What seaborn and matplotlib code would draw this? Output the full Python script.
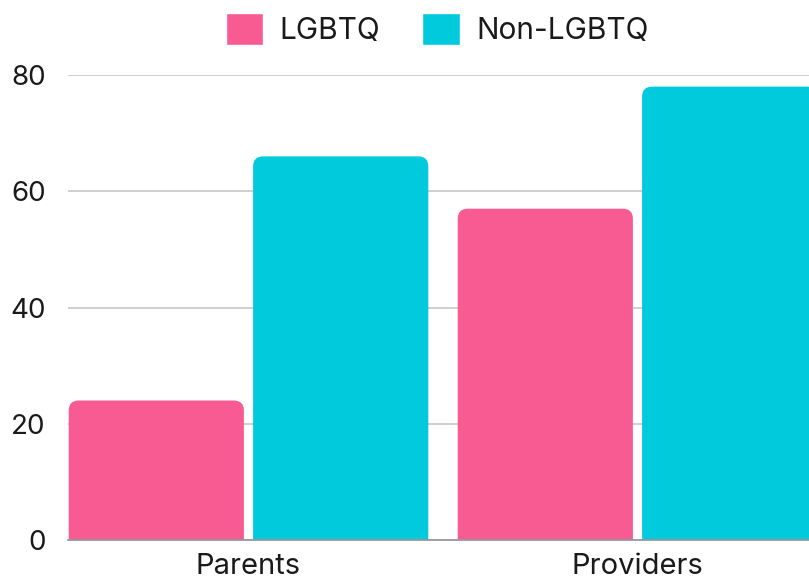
import matplotlib
matplotlib.use("Agg")
import matplotlib.pyplot as plt
from matplotlib.patches import FancyBboxPatch
import seaborn as sns
import pandas as pd

categories = ["Parents", "Providers"]
groups = ["LGBTQ", "Non-LGBTQ"]
lgbtq = [24, 57]
non_lgbtq = [66, 78]
colors = ["#F75B92", "#00CADC"]
yticks = [0, 20, 40, 60, 80]

df = pd.DataFrame({
    "cat": categories * 2,
    "group": [groups[0]] * 2 + [groups[1]] * 2,
    "value": lgbtq + non_lgbtq,
})

sns.set_theme(style="white")
plt.rcParams["font.family"] = ["Inter", "DejaVu Sans"]

fig = plt.figure(figsize=(8.09, 5.82), dpi=100)
ax = fig.add_axes([68 / 809, 42 / 582, 750 / 809, 465 / 582])

sns.barplot(data=df, x="cat", y="value", hue="group", palette=colors,
            width=0.948, gap=0.05, ax=ax, legend=True, saturation=1)

ax.set_xlim(-0.464, 1.464)
ax.set_ylim(0, 80)

# replace rectangles with rounded-top bars
asp = (80 / 465) / (1 / 389)
r = 10 / 389
rects = [p for p in ax.patches if p.get_height() > 0]
for p in rects:
    x, w, h = p.get_x(), p.get_width(), p.get_height()
    fc = p.get_facecolor()
    p.set_visible(False)
    fb = FancyBboxPatch((x, -4), w, h + 4,
                        boxstyle=f"round,pad=0,rounding_size={r}",
                        mutation_aspect=asp, facecolor=fc, edgecolor="none",
                        zorder=2)
    ax.add_patch(fb)

ax.set_yticks(yticks)
ax.yaxis.grid(True, color="#CCCCCC", linewidth=1.3, zorder=0)
ax.set_axisbelow(True)
for s in ["top", "right", "left"]:
    ax.spines[s].set_visible(False)
ax.spines["bottom"].set_color("#999999")
ax.spines["bottom"].set_linewidth(1.3)
ax.tick_params(axis="both", length=0, labelsize=20, colors="#1a1a1a")
ax.tick_params(axis="y", pad=16)
ax.tick_params(axis="x", pad=9.5, labelsize=21)
ax.set_xlabel("")
ax.set_ylabel("")

handles, labels = ax.get_legend_handles_labels()
ax.get_legend().remove()
fig.legend(handles, labels, loc="center", bbox_to_anchor=(437 / 809, 1 - 29 / 582),
           ncol=2, frameon=False, fontsize=21.5, handlelength=1.27,
           handleheight=1.27, handletextpad=0.54, columnspacing=1.4,
           labelcolor="#1a1a1a")

fig.savefig("out.png", dpi=100)
